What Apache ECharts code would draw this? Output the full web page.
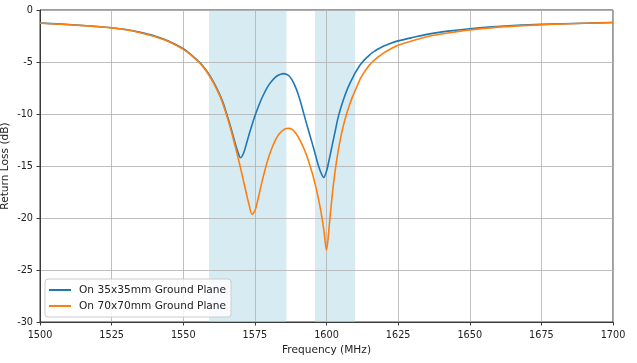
<!DOCTYPE html>
<html>
<head>
<meta charset="utf-8">
<script src="https://cdn.jsdelivr.net/npm/echarts@6/dist/echarts.min.js"></script>
<style>
html,body{margin:0;padding:0;background:#fff;}
#chart{width:637px;height:363px;}
</style>
</head>
<body>
<div id="chart"></div>
<script>
var seriesNames = ['On 35x35mm Ground Plane', 'On 70x70mm Ground Plane'];

var freq35 = [1500, 1510, 1520, 1525, 1530, 1535, 1540, 1545, 1550, 1553, 1556, 1557, 1558, 1559, 1560, 1561, 1562, 1563, 1564, 1565, 1566, 1567, 1568, 1569, 1570, 1571, 1572, 1573, 1574, 1575, 1576, 1577, 1578, 1579, 1580, 1581, 1582, 1583, 1584, 1585, 1586, 1587, 1588, 1589, 1590, 1591, 1592, 1593, 1594, 1595, 1596, 1597, 1598, 1599, 1600, 1601, 1602, 1603, 1604, 1605, 1606, 1607, 1608, 1609, 1610, 1611, 1612, 1613, 1614, 1615, 1616, 1617, 1618, 1620, 1622, 1625, 1630, 1637, 1645, 1650, 1662, 1675, 1690, 1700];
var loss35 = [-1.25, -1.4, -1.58, -1.7, -1.88, -2.15, -2.5, -3.0, -3.72, -4.35, -5.1, -5.45, -5.8, -6.2, -6.65, -7.15, -7.7, -8.3, -9.0, -9.85, -10.75, -11.7, -12.7, -13.6, -14.2, -13.8, -12.9, -11.95, -11.05, -10.2, -9.45, -8.75, -8.15, -7.6, -7.15, -6.8, -6.5, -6.3, -6.17, -6.12, -6.17, -6.35, -6.75, -7.3, -8.0, -8.9, -9.9, -10.9, -11.85, -12.8, -13.8, -14.8, -15.6, -16.1, -15.5, -14.3, -13.0, -11.7, -10.4, -9.4, -8.55, -7.8, -7.15, -6.6, -6.05, -5.6, -5.2, -4.87, -4.58, -4.33, -4.1, -3.92, -3.75, -3.46, -3.24, -2.97, -2.65, -2.25, -1.95, -1.8, -1.55, -1.38, -1.27, -1.2];

var freq70 = [1500, 1510, 1520, 1525, 1530, 1535, 1540, 1545, 1550, 1553, 1556, 1557, 1558, 1559, 1560, 1561, 1562, 1563, 1564, 1565, 1566, 1567, 1568, 1569, 1570, 1571, 1572, 1573, 1574, 1575, 1576, 1577, 1578, 1579, 1580, 1581, 1582, 1583, 1584, 1585, 1586, 1587, 1588, 1589, 1590, 1591, 1592, 1593, 1594, 1595, 1596, 1597, 1598, 1599, 1600, 1601, 1602, 1603, 1604, 1605, 1606, 1607, 1608, 1609, 1610, 1611, 1612, 1613, 1614, 1615, 1616, 1617, 1618, 1620, 1622, 1625, 1630, 1637, 1645, 1650, 1662, 1675, 1690, 1700];
var loss70 = [-1.27, -1.42, -1.6, -1.72, -1.9, -2.18, -2.55, -3.05, -3.78, -4.4, -5.15, -5.5, -5.87, -6.28, -6.73, -7.25, -7.8, -8.42, -9.15, -10.0, -10.9, -11.9, -12.95, -14.05, -15.2, -16.4, -17.6, -18.75, -19.65, -19.3, -18.3, -17.1, -15.95, -14.9, -14.0, -13.25, -12.6, -12.1, -11.75, -11.52, -11.4, -11.38, -11.48, -11.75, -12.15, -12.65, -13.25, -13.95, -14.75, -15.65, -16.7, -17.9, -19.3, -21.0, -23.1, -20.6, -17.8, -15.5, -13.7, -12.2, -11.0, -10.0, -9.15, -8.4, -7.75, -7.1, -6.5, -6.05, -5.65, -5.3, -5.0, -4.75, -4.52, -4.12, -3.8, -3.4, -2.95, -2.45, -2.1, -1.92, -1.6, -1.42, -1.28, -1.2];

var bands = [[1559, 1586], [1596, 1610]];

var xTicks = { min: 1500, max: 1700, step: 25 };
var yTicks = { min: -30, max: 0, step: 5 };

function pairs(xs, ys) {
  var out = [];
  for (var i = 0; i < xs.length; i++) out.push([xs[i], ys[i]]);
  return out;
}

var chart = echarts.init(document.getElementById('chart'), null, { renderer: 'canvas' });
var font = 'DejaVu Sans';
var textColor = '#222';

var option = {
  animation: false,
  backgroundColor: '#fff',
  grid: {
    left: 40, right: 24, top: 10, bottom: 41,
    containLabel: false, outerBoundsMode: 'none',
    show: true, borderColor: '#3a3a3a', borderWidth: 1, backgroundColor: 'transparent'
  },
  xAxis: {
    type: 'value',
    min: xTicks.min, max: xTicks.max, interval: xTicks.step,
    z: 1.5,
    name: 'Frequency (MHz)', nameLocation: 'middle', nameGap: 23, nameMoveOverlap: false,
    nameTextStyle: { fontFamily: font, fontSize: 10.6, color: textColor },
    axisLine: { show: true, onZero: false, lineStyle: { color: '#3a3a3a', width: 1 } },
    axisTick: { show: true, length: 3.5, lineStyle: { color: '#3a3a3a' } },
    axisLabel: { fontFamily: font, fontSize: 9.7, color: textColor, margin: 8,
      formatter: function (v) { return String(v); } },
    splitLine: { show: true, lineStyle: { color: '#b0b0b0', width: 0.8 } }
  },
  yAxis: {
    type: 'value',
    min: yTicks.min, max: yTicks.max, interval: yTicks.step,
    z: 1.5,
    name: 'Return Loss (dB)', nameLocation: 'middle', nameGap: 29, nameRotate: 90, nameMoveOverlap: false,
    nameTextStyle: { fontFamily: font, fontSize: 10.6, color: textColor },
    axisLine: { show: true, onZero: false, lineStyle: { color: '#3a3a3a', width: 1 } },
    axisTick: { show: true, length: 3.5, lineStyle: { color: '#3a3a3a' } },
    axisLabel: { fontFamily: font, fontSize: 9.7, color: textColor, margin: 7,
      formatter: function (v) { return String(v); } },
    splitLine: { show: true, lineStyle: { color: '#b0b0b0', width: 0.8 } }
  },
  legend: {
    orient: 'vertical',
    left: 45, bottom: 46,
    padding: [5, 5, 5, 4],
    itemGap: 4,
    itemWidth: 22, itemHeight: 2,
    icon: 'rect',
    backgroundColor: 'rgba(255,255,255,0.8)',
    borderColor: '#cccccc', borderWidth: 1, borderRadius: 3,
    textStyle: { fontFamily: font, fontSize: 10.6, color: textColor, lineHeight: 12, padding: [0, 0, 0, 3] },
    data: seriesNames
  },
  series: [
    {
      name: seriesNames[0],
      type: 'line',
      data: pairs(freq35, loss35),
      smooth: 0.3,
      symbol: 'none',
      lineStyle: { color: '#1f77b4', width: 1.6 },
      itemStyle: { color: '#1f77b4' },
      z: 2,
      markArea: {
        silent: true,
        itemStyle: { color: 'rgba(173,216,230,0.5)' },
        data: bands.map(function (b) { return [{ xAxis: b[0] }, { xAxis: b[1] }]; })
      }
    },
    {
      name: seriesNames[1],
      type: 'line',
      data: pairs(freq70, loss70),
      smooth: 0.3,
      symbol: 'none',
      lineStyle: { color: '#ff7f0e', width: 1.6 },
      itemStyle: { color: '#ff7f0e' },
      z: 3
    }
  ]
};
chart.setOption(option);
</script>
</body>
</html>
